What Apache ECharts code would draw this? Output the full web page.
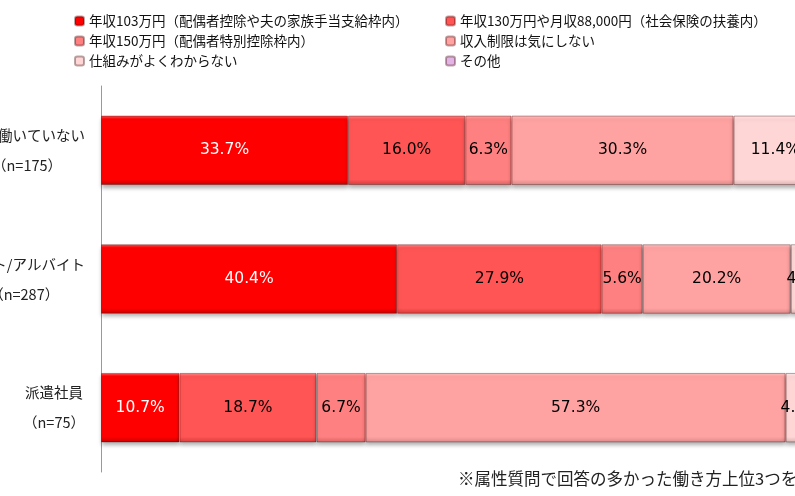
<!DOCTYPE html>
<html>
<head>
<meta charset="utf-8">
<script src="https://cdn.jsdelivr.net/npm/echarts@6/dist/echarts.min.js"></script>
<style>
  html, body { margin: 0; padding: 0; background: #fff; }
  #main { width: 795px; height: 496px; }
</style>
</head>
<body>
<div id="main"></div>
<script>
    // カテゴリと回答数
    var categories = ['現在働いていない', 'パート/アルバイト', '派遣社員'];
    var sampleSizes = ['175', '287', '75'];

    // 系列名
    var seriesNames = [
        '年収103万円（配偶者控除や夫の家族手当支給枠内）',
        '年収130万円や月収88,000円（社会保険の扶養内）',
        '年収150万円（配偶者特別控除枠内）',
        '収入制限は気にしない',
        '仕組みがよくわからない',
        'その他'
    ];

    // 各系列の値 (%)
    var income103 = [33.7, 40.4, 10.7];
    var income130 = [16.0, 27.9, 18.7];
    var income150 = [6.3, 5.6, 6.7];
    var noLimit = [30.3, 20.2, 57.3];
    var dontKnow = [11.4, 4.2, 4.0];
    var others = [2.3, 1.7, 2.6];

    var seriesValues = [income103, income130, income150, noLimit, dontKnow, others];
    var baseColors = ['#ff0000', '#ff5555', '#ff8080', '#ffa2a2', '#ffd6d6', '#e2b4e6'];
    var topColors = ['#ff5a5a', '#ff8a8a', '#ffabab', '#ffc4c4', '#ffeaea', '#f0d4f2'];
    var bottomColors = ['#c40000', '#d63c3c', '#d86262', '#d88888', '#d8b2b2', '#b88cc0'];
    var labelColors = ['#fff', '#000', '#000', '#000', '#000', '#000'];

    var chart = echarts.init(document.getElementById('main'));

    function bevel(i) {
        return new echarts.graphic.LinearGradient(0, 0, 0, 1, [
            { offset: 0, color: topColors[i] },
            { offset: 0.05, color: baseColors[i] },
            { offset: 0.92, color: baseColors[i] },
            { offset: 1, color: bottomColors[i] }
        ]);
    }

    var series = seriesNames.map(function(name, i) {
        return {
            name: name,
            type: 'bar',
            stack: 'total',
            barCategoryGap: '46%',
            data: seriesValues[i],
            itemStyle: {
                color: bevel(i),
                borderColor: 'rgba(60,0,0,0.35)',
                borderWidth: 1,
                shadowColor: 'rgba(0,0,0,0.3)',
                shadowBlur: 4,
                shadowOffsetY: 3
            },
            label: {
                show: true,
                position: 'inside',
                color: labelColors[i],
                fontFamily: 'DejaVu Sans',
                fontSize: 15.5,
                formatter: function(p) {
                    return p.value.toFixed(1) + '%';
                }
            }
        };
    });

    var legendText = {
        fontFamily: 'Noto Sans CJK JP',
        fontSize: 13.5,
        color: '#111',
        lineHeight: 14
    };

    var options = {
        animation: false,
        legend: [{
            orient: 'vertical',
            left: 74,
            top: 14,
            padding: 0,
            itemWidth: 9,
            itemHeight: 9,
            itemGap: 6,
            textStyle: legendText,
            data: [seriesNames[0], seriesNames[2], seriesNames[4]]
        }, {
            orient: 'vertical',
            left: 445,
            top: 14,
            padding: 0,
            itemWidth: 9,
            itemHeight: 9,
            itemGap: 6,
            textStyle: legendText,
            data: [seriesNames[1], seriesNames[3], seriesNames[5]]
        }],
        grid: {
            left: 101,
            top: 86,
            width: 733,
            height: 386,
            containLabel: false,
            outerBoundsMode: 'none'
        },
        xAxis: {
            type: 'value',
            min: 0,
            max: 100,
            show: false
        },
        yAxis: {
            type: 'category',
            inverse: true,
            data: categories,
            axisLine: { lineStyle: { color: '#999', width: 1 } },
            axisTick: { show: false },
            axisLabel: {
                align: 'right',
                margin: 16,
                formatter: function(value, index) {
                    return '{a|' + value + '}\n{a|（n=' + sampleSizes[index] + '）}';
                },
                rich: {
                    a: {
                        align: 'center',
                        fontFamily: 'Noto Sans CJK JP',
                        fontSize: 14.5,
                        lineHeight: 30,
                        color: '#222'
                    }
                }
            }
        },
        graphic: [{
            type: 'text',
            left: 458,
            top: 470,
            style: {
                text: '※属性質問で回答の多かった働き方上位3つを抜粋',
                fontFamily: 'Noto Sans CJK JP',
                fontSize: 16.5,
                fill: '#222'
            }
        }],
        series: series
    };

    chart.setOption(options);
</script>
</body>
</html>
